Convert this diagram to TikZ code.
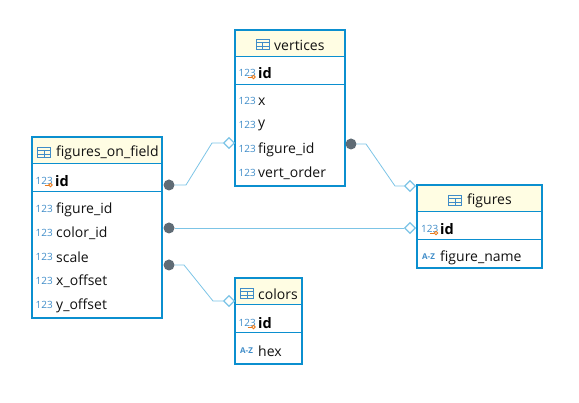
\documentclass[tikz,border=0pt]{standalone}
\usepackage{fontspec}
\setmainfont{Open Sans}
\usepackage{xcolor}
\usetikzlibrary{shapes.geometric,positioning}
\definecolor{tableblue}{HTML}{0B8FCF}
\definecolor{headfill}{HTML}{FFFDE3}
\definecolor{relblue}{HTML}{7CC4E6}
\definecolor{iconblue}{HTML}{3F8CC8}
\definecolor{keyorange}{HTML}{E8791C}
\definecolor{dotgray}{HTML}{5F6B75}
\definecolor{inktext}{HTML}{111111}
\newcommand{\numicon}{{\fontsize{10}{10}\selectfont\color{iconblue}123}}
\newcommand{\azicon}{{\fontsize{8}{8}\selectfont\bfseries\color{iconblue}A-Z}}
\tikzset{
    tablebox/.style={draw=tableblue, line width=2pt, anchor=north west, inner sep=0pt, outer sep=0pt},
    headbox/.style={fill=headfill, anchor=north west, inner sep=0pt, outer sep=0pt},
    rowline/.style={draw=tableblue, line width=1pt},
    headtext/.style={font=\fontsize{14}{14}\selectfont, text=inktext, inner sep=0pt, yshift=-1pt},
    coltext/.style={font=\fontsize{14}{14}\selectfont, text=inktext, anchor=west, inner sep=0pt, yshift=-1.5pt},
    idtext/.style={font=\fontsize{14.5}{14}\selectfont\bfseries, text=black, anchor=west, inner sep=0pt, yshift=-1pt},
    iconnode/.style={anchor=west, inner sep=0pt, yshift=-1pt},
    onedot/.style={circle, fill=dotgray, minimum size=11pt, inner sep=0pt},
    zerodia/.style={diamond, draw=relblue, fill=white, line width=1.2pt, minimum size=11pt, inner sep=0pt},
    rel/.style={draw=relblue, line width=0.8pt},
    gridicon/.pic={
        \draw[iconblue, line width=1pt] (-6.5,-4) rectangle (6.5,6);
        \draw[iconblue, line width=1pt] (-6.5,-1) -- (6.5,-1) (-6.5,2.5) -- (6.5,2.5) (0,-1) -- (0,6);
    },
    keyicon/.pic={
        \draw[keyorange, line width=0.8pt] (-5,0) -- (-1,0);
        \draw[keyorange, line width=0.9pt] (1,0) circle (1.8);
    },
}
\begin{document}
\begin{tikzpicture}[x=1pt, y=-1pt]
    \useasboundingbox (0,0) rectangle (579,403);

    % figures_on_field
    \node[headbox, minimum width=130pt, minimum height=27pt] (fof_head) at (32,137) {};
    \node[tablebox, minimum width=130pt, minimum height=181pt] (fof) at (32,137) {};
    \draw[rowline] (32,164) -- (162,164) (32,192) -- (162,192);
    \pic at (44,152) {gridicon};
    \node[headtext, anchor=west] (fof_name) at (56,152) {figures\_on\_field};
    \node[iconnode] (fof_i1) at (35.5,180) {\numicon};
    \pic at (49.5,185) {keyicon};
    \node[idtext] (fof_id) at (55,180) {id};
    \node[iconnode] (fof_i2) at (35.5,208) {\numicon};
    \node[coltext] (fof_c1) at (56,208) {figure\_id};
    \node[iconnode] (fof_i3) at (35.5,232) {\numicon};
    \node[coltext] (fof_c2) at (56,232) {color\_id};
    \node[iconnode] (fof_i4) at (35.5,256) {\numicon};
    \node[coltext] (fof_c3) at (56,256) {scale};
    \node[iconnode] (fof_i5) at (35.5,280) {\numicon};
    \node[coltext] (fof_c4) at (56,280) {x\_offset};
    \node[iconnode] (fof_i6) at (35.5,304) {\numicon};
    \node[coltext] (fof_c5) at (56,304) {y\_offset};

    % vertices
    \node[headbox, minimum width=110pt, minimum height=27pt] (vert_head) at (235,30) {};
    \node[tablebox, minimum width=110pt, minimum height=156pt] (vert) at (235,30) {};
    \draw[rowline] (235,57) -- (345,57) (235,85) -- (345,85);
    \pic at (262.5,44) {gridicon};
    \node[headtext, anchor=west] (vert_name) at (274,44) {vertices};
    \node[iconnode] (vert_i1) at (238.5,72) {\numicon};
    \pic at (252.5,77) {keyicon};
    \node[idtext] (vert_id) at (258,72) {id};
    \node[iconnode] (vert_i2) at (238.5,100) {\numicon};
    \node[coltext] (vert_c1) at (258,100) {x};
    \node[iconnode] (vert_i3) at (238.5,124) {\numicon};
    \node[coltext] (vert_c2) at (258,124) {y};
    \node[iconnode] (vert_i4) at (238.5,148) {\numicon};
    \node[coltext] (vert_c3) at (258,148) {figure\_id};
    \node[iconnode] (vert_i5) at (238.5,172) {\numicon};
    \node[coltext] (vert_c4) at (258,172) {vert\_order};

    % figures
    \node[headbox, minimum width=125pt, minimum height=27pt] (fig_head) at (417,185) {};
    \node[tablebox, minimum width=125pt, minimum height=83pt] (fig) at (417,185) {};
    \draw[rowline] (417,212) -- (542,212) (417,240) -- (542,240);
    \pic at (455,200) {gridicon};
    \node[headtext, anchor=west] (fig_name) at (467,200) {figures};
    \node[iconnode] (fig_i1) at (421,228) {\numicon};
    \pic at (435,233) {keyicon};
    \node[idtext] (fig_id) at (440,228) {id};
    \node[iconnode] (fig_i2) at (422,256) {\azicon};
    \node[coltext] (fig_c1) at (440,256) {figure\_name};

    % colors
    \node[headbox, minimum width=67pt, minimum height=27pt] (col_head) at (235,278) {};
    \node[tablebox, minimum width=67pt, minimum height=86pt] (col) at (235,278) {};
    \draw[rowline] (235,305) -- (302,305) (235,333) -- (302,333);
    \pic at (247,293) {gridicon};
    \node[headtext, anchor=west] (col_name) at (258,293) {colors};
    \node[iconnode] (col_i1) at (238.5,322) {\numicon};
    \pic at (252.5,327) {keyicon};
    \node[idtext] (col_id) at (258,322) {id};
    \node[iconnode] (col_i2) at (240,350) {\azicon};
    \node[coltext] (col_c1) at (258,350) {hex};

    % relations
    \coordinate (a1) at (186,185);
    \coordinate (a2) at (212,143);
    \coordinate (b1) at (366,144);
    \coordinate (b2) at (395,186);
    \coordinate (c1) at (184,265);
    \coordinate (c2) at (213,301);
    \node[onedot] (dot_a) at (169,185) {};
    \node[onedot] (dot_b) at (351,144) {};
    \node[onedot] (dot_c) at (169,228) {};
    \node[onedot] (dot_d) at (169,265) {};
    \node[zerodia] (dia_a) at (229,143) {};
    \node[zerodia] (dia_b) at (410,186) {};
    \node[zerodia] (dia_c) at (410,228) {};
    \node[zerodia] (dia_d) at (229,301) {};
    \draw[rel] (dot_a) -- (a1) -- (a2) -- (dia_a);
    \draw[rel] (dot_b) -- (b1) -- (b2) -- (dia_b);
    \draw[rel] (dot_c) -- (dia_c);
    \draw[rel] (dot_d) -- (c1) -- (c2) -- (dia_d);
\end{tikzpicture}
\end{document}
